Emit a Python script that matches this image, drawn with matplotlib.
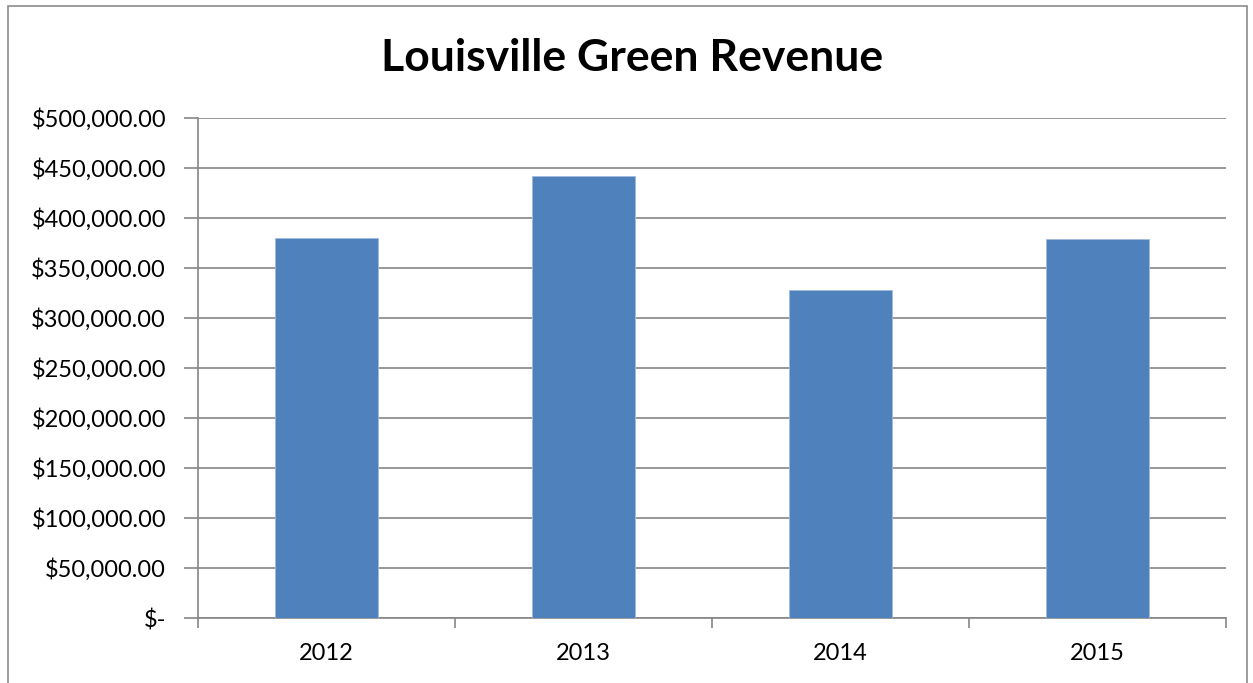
import matplotlib.pyplot as plt
from matplotlib.patches import Rectangle
from matplotlib.ticker import FuncFormatter, MultipleLocator

years = ['2012', '2013', '2014', '2015']
revenue = [380300, 442000, 328300, 379000]

plt.rcParams['font.family'] = ['Lato', 'DejaVu Sans']


def money(v, pos):
    if v == 0:
        return '$-'
    return '${:,.2f}'.format(v)


fig = plt.figure(figsize=(12.53, 6.83), dpi=100)
fig.patches.append(Rectangle((8 / 1253, -0.01), 1239 / 1253, 1 - 6 / 683 + 0.01,
                             transform=fig.transFigure, fill=False,
                             edgecolor='#8c8c8c', lw=1.2))
ax = fig.add_axes([198 / 1253, 65 / 683, 1028 / 1253, 500 / 683])

x = range(len(years))
ax.bar(x, revenue, width=0.4, color='#4f81bd', edgecolor='#9fbbdf', lw=0.6, zorder=3)

ax.set_xlim(-0.5, 3.5)
ax.set_ylim(0, 500000)
ax.yaxis.set_major_locator(MultipleLocator(50000))
ax.yaxis.set_major_formatter(FuncFormatter(money))
ax.yaxis.grid(True, color='#868686', lw=1.2, zorder=0)

ax.set_xticks([0, 1, 2, 3])
ax.set_xticklabels(years)
ax.set_xticks([-0.5, 0.5, 1.5, 2.5, 3.5], minor=True)
ax.tick_params(axis='x', which='major', length=0, pad=18, labelsize=17)
ax.tick_params(axis='x', which='minor', length=7, color='#868686', width=1.2)
ax.tick_params(axis='y', length=10, color='#868686', width=1.2, labelsize=17, pad=13)

for s in ['top', 'right']:
    ax.spines[s].set_visible(False)
ax.spines['left'].set_color('#868686')
ax.spines['bottom'].set_color('#868686')
ax.spines['left'].set_linewidth(1.2)
ax.spines['bottom'].set_linewidth(1.2)

fig.text(632 / 1253, 1 - 58 / 683, 'Louisville Green Revenue', ha='center', va='center',
         fontsize=32, fontweight='bold')

fig.savefig('out.png', dpi=100)
